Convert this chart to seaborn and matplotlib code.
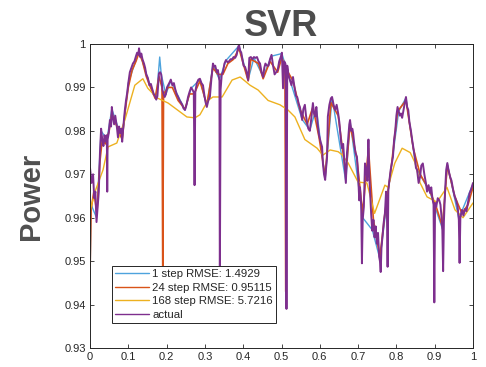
import matplotlib
matplotlib.use("Agg")
import matplotlib.pyplot as plt
import seaborn as sns
import pandas as pd
from matplotlib.ticker import FixedLocator

# ---------------- data ----------------
actual_x = [0.000,0.004,0.008,0.011,0.014,0.017,0.020,0.023,0.026,0.029,0.032,0.035,0.038,0.041,0.044,0.045,0.046,0.049,0.052,0.055,
            0.057,0.060,0.063,0.066,0.070,0.073,0.076,0.079,0.082,0.084,0.087,0.091,0.094,0.097,0.100,0.104,0.108,0.112,0.116,0.120,
            0.123,0.126,0.128,0.131,0.134,0.137,0.141,0.144,0.147,0.151,0.155,0.159,0.162,0.166,0.170,0.173,0.176,0.180,0.183,0.186,
            0.189,0.192,0.195,0.198,0.201,0.204,0.208,0.211,0.215,0.219,0.222,0.226,0.230,0.234,0.237,0.241,0.244,0.248,0.252,0.256,
            0.260,0.264,0.268,0.271,0.273,0.275,0.279,0.283,0.287,0.291,0.295,0.299,0.302,0.305,0.309,0.313,0.317,0.321,0.324,0.327,
            0.331,0.334,0.338,0.339,0.341,0.344,0.347,0.351,0.355,0.359,0.363,0.367,0.371,0.375,0.379,0.383,0.386,0.389,0.392,0.395,
            0.398,0.401,0.405,0.409,0.413,0.416,0.420,0.424,0.428,0.432,0.436,0.440,0.444,0.448,0.452,0.455,0.458,0.462,0.466,0.470,
            0.474,0.478,0.482,0.486,0.490,0.494,0.498,0.501,0.504,0.507,0.510,0.511,0.513,0.515,0.518,0.522,0.526,0.530,0.534,0.538,
            0.541,0.545,0.548,0.551,0.554,0.557,0.561,0.564,0.567,0.570,0.574,0.578,0.582,0.585,0.588,0.591,0.594,0.598,0.602,0.606,
            0.608,0.611,0.614,0.616,0.619,0.621,0.625,0.629,0.632,0.636,0.640,0.644,0.648,0.651,0.653,0.656,0.658,0.661,0.664,0.668,
            0.671,0.674,0.677,0.679,0.682,0.685,0.687,0.690,0.693,0.697,0.700,0.703,0.705,0.708,0.710,0.712,0.715,0.718,0.721,0.724,
            0.727,0.729,0.731,0.734,0.737,0.740,0.743,0.746,0.749,0.752,0.755,0.757,0.759,0.761,0.764,0.767,0.770,0.773,0.775,0.777,
            0.779,0.782,0.785,0.788,0.791,0.794,0.797,0.800,0.803,0.806,0.809,0.812,0.815,0.819,0.822,0.825,0.828,0.831,0.834,0.838,
            0.841,0.844,0.848,0.851,0.854,0.858,0.862,0.865,0.869,0.873,0.877,0.880,0.884,0.888,0.891,0.894,0.897,0.899,0.901,0.904,
            0.908,0.912,0.915,0.918,0.920,0.922,0.924,0.927,0.930,0.933,0.936,0.940,0.944,0.948,0.952,0.956,0.960,0.963,0.965,0.967,
            0.971,0.975,0.979,0.983,0.987,0.991,0.995,1.000]
actual_y = [0.9715,0.9680,0.9700,0.9645,0.9660,0.9590,0.9625,0.9660,0.9750,0.9805,0.9780,0.9765,0.9790,0.9775,0.9790,0.9660,0.9780,0.9795,0.9825,0.9810,
            0.9855,0.9830,0.9815,0.9835,0.9810,0.9785,0.9810,0.9795,0.9805,0.9775,0.9810,0.9848,0.9870,0.9887,0.9910,0.9935,0.9945,0.9955,0.9960,0.9972,
            0.9980,0.9975,0.9990,0.9970,0.9978,0.9965,0.9955,0.9945,0.9930,0.9922,0.9905,0.9908,0.9898,0.9885,0.9880,0.9872,0.9880,0.9932,0.9935,0.9930,
            0.9895,0.9885,0.9878,0.9884,0.9900,0.9905,0.9912,0.9918,0.9905,0.9910,0.9898,0.9885,0.9878,0.9870,0.9866,0.9860,0.9852,0.9848,0.9860,0.9878,
            0.9890,0.9900,0.9894,0.9888,0.9675,0.9890,0.9910,0.9918,0.9920,0.9910,0.9905,0.9880,0.9865,0.9855,0.9870,0.9878,0.9920,0.9955,0.9948,0.9950,
            0.9935,0.9940,0.9915,0.9440,0.9895,0.9930,0.9935,0.9955,0.9963,0.9958,0.9960,0.9965,0.9965,0.9970,0.9968,0.9975,0.9990,0.9998,0.9985,0.9980,
            0.9965,0.9950,0.9947,0.9935,0.9917,0.9968,0.9970,0.9965,0.9970,0.9968,0.9970,0.9960,0.9955,0.9935,0.9924,0.9945,0.9955,0.9950,0.9950,0.9965,
            0.9975,0.9950,0.9930,0.9935,0.9940,0.9960,0.9970,0.9980,0.9898,0.9960,0.9955,0.9950,0.9390,0.9950,0.9930,0.9917,0.9905,0.9924,0.9900,0.9880,
            0.9878,0.9862,0.9855,0.9840,0.9825,0.9850,0.9860,0.9835,0.9818,0.9805,0.9800,0.9830,0.9864,0.9840,0.9833,0.9855,0.9818,0.9790,0.9775,0.9763,
            0.9726,0.9700,0.9687,0.9710,0.9740,0.9833,0.9860,0.9875,0.9878,0.9860,0.9848,0.9860,0.9840,0.9820,0.9800,0.9770,0.9760,0.9770,0.9730,0.9680,
            0.9750,0.9780,0.9815,0.9825,0.9800,0.9805,0.9795,0.9770,0.9750,0.9740,0.9700,0.9640,0.9670,0.9630,0.9495,0.9595,0.9625,0.9725,0.9710,0.9685,
            0.9780,0.9700,0.9665,0.9610,0.9570,0.9595,0.9555,0.9580,0.9540,0.9565,0.9510,0.9500,0.9475,0.9530,0.9560,0.9590,0.9610,0.9660,0.9635,0.9487,
            0.9665,0.9687,0.9710,0.9725,0.9740,0.9780,0.9800,0.9835,0.9855,0.9845,0.9835,0.9840,0.9830,0.9850,0.9865,0.9878,0.9855,0.9848,0.9820,0.9800,
            0.9780,0.9763,0.9740,0.9715,0.9710,0.9680,0.9695,0.9720,0.9725,0.9700,0.9680,0.9660,0.9675,0.9657,0.9670,0.9645,0.9630,0.9405,0.9634,0.9625,
            0.9645,0.9640,0.9630,0.9600,0.9570,0.9477,0.9590,0.9660,0.9710,0.9726,0.9710,0.9695,0.9685,0.9665,0.9650,0.9640,0.9625,0.9595,0.9496,0.9600,
            0.9618,0.9605,0.9620,0.9615,0.9635,0.9656,0.9665,0.9680]

step24_x = [0.000,0.003,0.010,0.018,0.026,0.032,0.040,0.050,0.057,0.066,0.075,0.084,0.091,0.100,0.110,0.120,0.128,0.137,0.147,0.158,
            0.170,0.180,0.188,0.190,0.192,0.204,0.215,0.230,0.248,0.260,0.272,0.287,0.305,0.321,0.334,0.347,0.360,0.375,0.389,0.400,
            0.413,0.420,0.440,0.452,0.470,0.490,0.501,0.509,0.511,0.514,0.530,0.548,0.567,0.582,0.598,0.614,0.629,0.648,0.668,0.679,
            0.697,0.712,0.727,0.740,0.757,0.770,0.785,0.803,0.825,0.844,0.862,0.888,0.904,0.920,0.933,0.952,0.971,0.987,1.000]
step24_y = [0.9470,0.9620,0.9660,0.9610,0.9730,0.9780,0.9770,0.9800,0.9840,0.9820,0.9800,0.9780,0.9840,0.9900,0.9940,0.9960,0.9980,0.9960,0.9925,0.9900,
            0.9875,0.9925,0.9900,0.9450,0.9885,0.9900,0.9900,0.9870,0.9850,0.9885,0.9885,0.9915,0.9860,0.9945,0.9930,0.9930,0.9955,0.9965,0.9990,0.9955,
            0.9915,0.9965,0.9955,0.9920,0.9960,0.9935,0.9970,0.9945,0.9430,0.9940,0.9915,0.9850,0.9815,0.9855,0.9785,0.9695,0.9865,0.9835,0.9700,0.9815,
            0.9735,0.9610,0.9760,0.9595,0.9510,0.9610,0.9705,0.9845,0.9870,0.9760,0.9700,0.9660,0.9625,0.9580,0.9720,0.9650,0.9610,0.9630,0.9670]

step1_x = [0.000,0.003,0.017,0.029,0.044,0.057,0.084,0.100,0.128,0.151,0.173,0.182,0.186,0.198,0.211,0.248,0.264,0.287,0.305,0.321,
           0.338,0.355,0.389,0.413,0.428,0.452,0.474,0.501,0.522,0.554,0.574,0.591,0.614,0.632,0.668,0.679,0.712,0.737,0.757,0.782,
           0.806,0.825,0.851,0.888,0.920,0.933,0.963,1.000]
step1_y = [0.9450,0.9630,0.9600,0.9800,0.9780,0.9850,0.9780,0.9910,0.9985,0.9920,0.9872,0.9970,0.9930,0.9884,0.9915,0.9848,0.9898,0.9918,0.9857,0.9952,
           0.9918,0.9962,0.9996,0.9918,0.9968,0.9925,0.9972,0.9978,0.9917,0.9826,0.9802,0.9853,0.9688,0.9877,0.9683,0.9823,0.9600,0.9572,0.9505,0.9685,
           0.9845,0.9876,0.9716,0.9658,0.9575,0.9724,0.9598,0.9678]

step168_x = [0.000,0.013,0.034,0.047,0.070,0.091,0.117,0.138,0.151,0.175,0.204,0.253,0.274,0.287,0.308,0.321,0.345,0.371,0.392,0.418,
             0.439,0.465,0.496,0.517,0.535,0.561,0.593,0.608,0.627,0.648,0.658,0.674,0.700,0.723,0.743,0.770,0.778,0.796,0.815,0.836,
             0.849,0.862,0.880,0.906,0.932,0.953,0.974,1.000]
step168_y = [0.9615,0.9660,0.9710,0.9763,0.9772,0.9825,0.9905,0.9920,0.9898,0.9876,0.9864,0.9832,0.9830,0.9837,0.9870,0.9878,0.9878,0.9917,0.9924,0.9905,
             0.9894,0.9870,0.9860,0.9848,0.9832,0.9780,0.9760,0.9744,0.9756,0.9752,0.9745,0.9726,0.9682,0.9680,0.9610,0.9675,0.9670,0.9726,0.9760,0.9750,
             0.9726,0.9680,0.9648,0.9636,0.9670,0.9618,0.9600,0.9634]

labels = ["1 step RMSE: 1.4929", "24 step RMSE: 0.95115", "168 step RMSE: 5.7216", "actual"]
colors = ["#4da3dd", "#d95319", "#edb120", "#7e2f8e"]
x_ticks = [0, 0.1, 0.2, 0.3, 0.4, 0.5, 0.6, 0.7, 0.8, 0.9, 1.0]
x_ticklabels = ["0", "0.1", "0.2", "0.3", "0.4", "0.5", "0.6", "0.7", "0.8", "0.9", "1"]
y_ticks = [0.93, 0.94, 0.95, 0.96, 0.97, 0.98, 0.99, 1.0]
y_ticklabels = ["0.93", "0.94", "0.95", "0.96", "0.97", "0.98", "0.99", "1"]

# ---------------- plot ----------------
sns.set_style("ticks")
plt.rcParams['font.family'] = ['Liberation Sans', 'DejaVu Sans']

fig = plt.figure(figsize=(4.86, 3.67), dpi=100)
ax = fig.add_axes([90/486, 1-348/367, (473-90)/486, (348-44)/367])

series = [(step1_x, step1_y), (step24_x, step24_y), (step168_x, step168_y), (actual_x, actual_y)]
widths = [1.0, 1.2, 1.0, 1.4]
for (xs, ys), lab, col, lw in zip(series, labels, colors, widths):
    df = pd.DataFrame({"x": xs, "y": ys})
    sns.lineplot(data=df, x="x", y="y", ax=ax, color=col, linewidth=lw,
                 label=lab, estimator=None, sort=False)

ax.set_xlim(0, 1)
ax.set_ylim(0.93, 1.0)
ax.xaxis.set_major_locator(FixedLocator(x_ticks))
ax.set_xticklabels(x_ticklabels)
ax.yaxis.set_major_locator(FixedLocator(y_ticks))
ax.set_yticklabels(y_ticklabels)
ax.tick_params(direction="in", top=True, right=True, length=3, width=0.6,
               colors="#262626", labelsize=8, pad=3)
for s in ax.spines.values():
    s.set_color("#262626")
    s.set_linewidth(0.7)
ax.set_xlabel("")
ax.set_ylabel("Power", fontsize=21, fontweight="bold", color="#505050", labelpad=14)
ax.set_title("SVR", fontsize=26, fontweight="bold", color="#4d4d4d", pad=6)

leg = ax.legend(loc="lower left", bbox_to_anchor=(0.057, 0.082), borderaxespad=0,
                fontsize=8.2, handlelength=3.0, fancybox=False, framealpha=1,
                edgecolor="#262626", labelspacing=0.3, borderpad=0.3,
                handletextpad=0.25)
leg.get_frame().set_linewidth(0.7)
for line in leg.get_lines():
    line.set_linewidth(1.0)

fig.savefig("out.png", dpi=100)
